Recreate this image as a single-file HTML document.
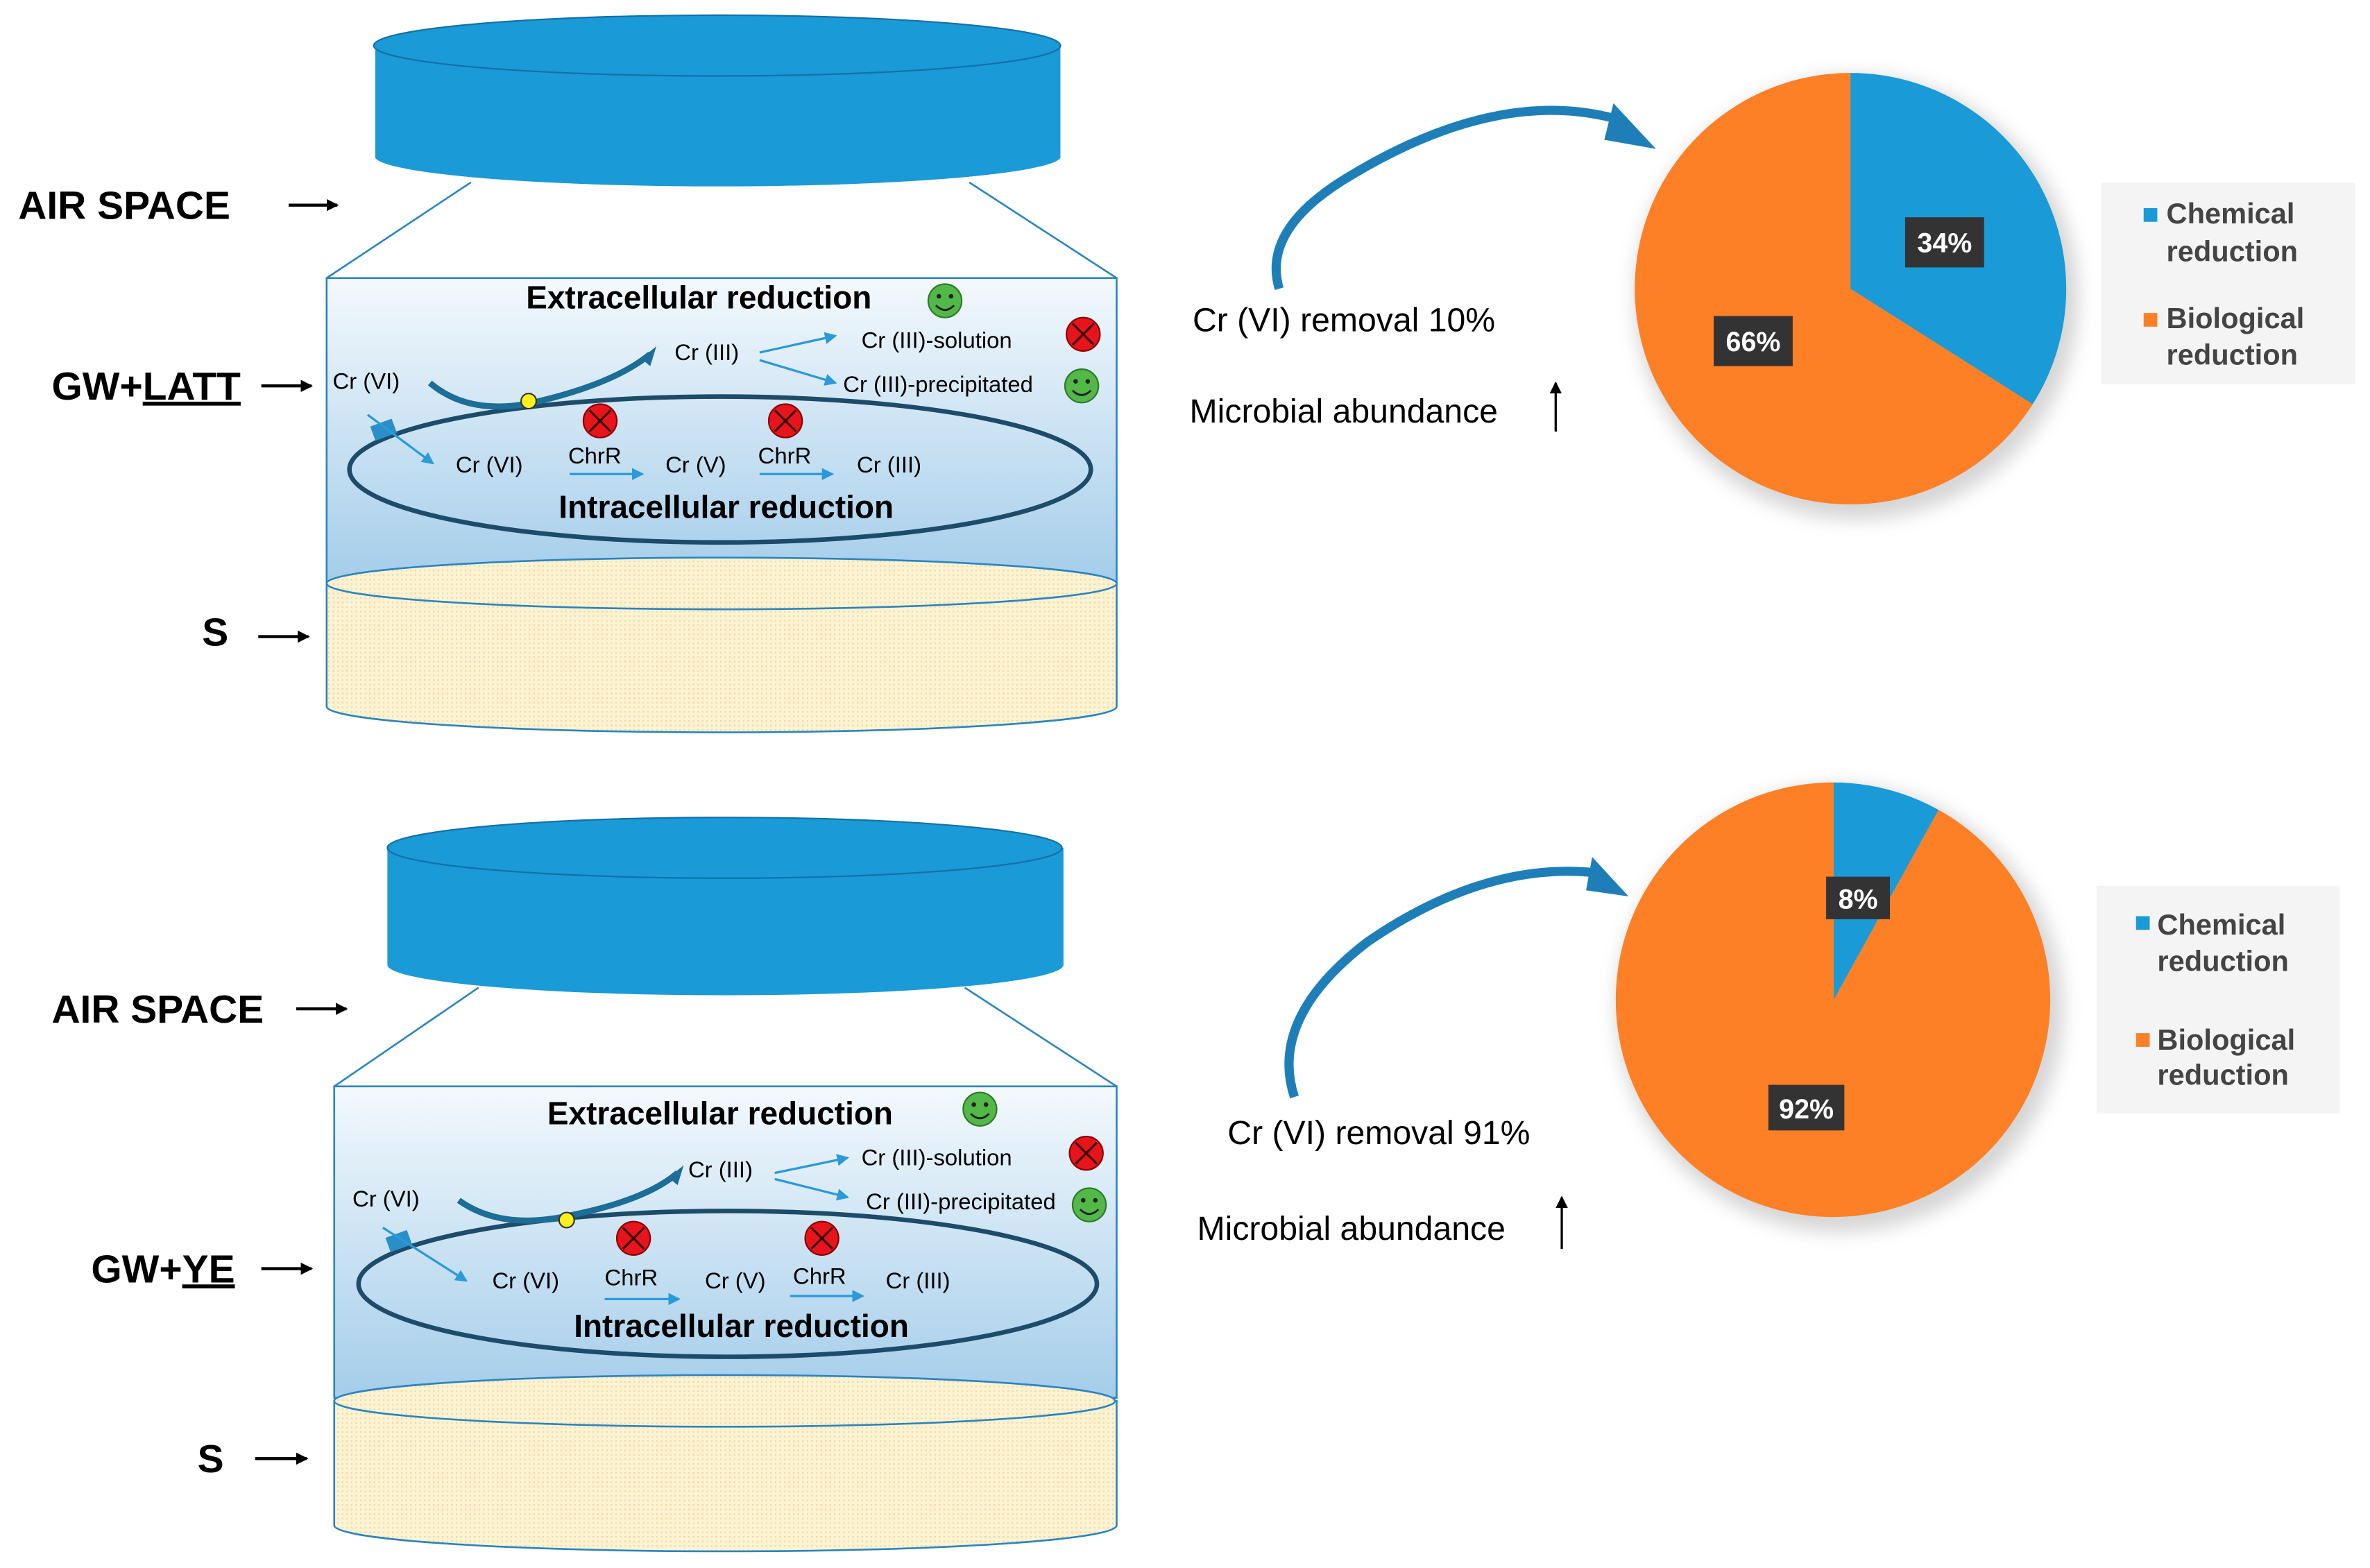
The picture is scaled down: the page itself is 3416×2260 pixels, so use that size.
<!DOCTYPE html>
<html><head><meta charset="utf-8"><style>
html,body{margin:0;padding:0;background:#fff;}
svg{display:block;}
text{font-family:"Liberation Sans Narrow","Liberation Sans",sans-serif;}
.b{font-weight:bold;}
</style></head><body>
<svg width="3416" height="2260" viewBox="0 0 1560 1032" preserveAspectRatio="none" xmlns="http://www.w3.org/2000/svg">
<defs>
<linearGradient id="water" x1="0" y1="0" x2="0" y2="1">
<stop offset="0" stop-color="#f4f9fd"/><stop offset="1" stop-color="#a4cdea"/>
</linearGradient>
<pattern id="dots" width="3" height="3" patternUnits="userSpaceOnUse">
<rect width="3" height="3" fill="#fdf3d2"/><rect width="1" height="1" fill="#e9d9a6"/>
</pattern>
<marker id="ah" markerWidth="8" markerHeight="8" refX="7" refY="4" orient="auto" markerUnits="userSpaceOnUse"><path d="M0,0 L8,4 L0,8 z" fill="#2a9ad8"/></marker>
<marker id="bk" markerWidth="8" markerHeight="8" refX="7" refY="4" orient="auto" markerUnits="userSpaceOnUse"><path d="M0,0 L8,4 L0,8 z" fill="#000"/></marker>
<g id="smile"><circle r="11" fill="#52b848" stroke="#2e7a28" stroke-width="1"/><circle cx="-4" cy="-3" r="1.5" fill="#222"/><circle cx="4" cy="-3" r="1.5" fill="#222"/><path d="M-6,3 Q0,9 6,3" fill="none" stroke="#222" stroke-width="1.3"/></g>
<g id="xx"><circle r="11" fill="#e8141c" stroke="#8a0000" stroke-width="1"/><path d="M-7,-7 L7,7 M7,-7 L-7,7" stroke="#300" stroke-width="1.4"/></g>
<filter id="sh" x="-20%" y="-20%" width="140%" height="140%"><feGaussianBlur stdDeviation="6"/></filter>
</defs>

<!-- ========== TOP JAR ========== -->
<line x1="310" y1="120" x2="215" y2="183" stroke="#2a85c0" stroke-width="1.2"/>
<line x1="638" y1="120" x2="735" y2="183" stroke="#2a85c0" stroke-width="1.2"/>
<path d="M247,30 L247,104 A226,20 0 0 0 698,104 L698,30 z" fill="#1a9ad6"/>
<ellipse cx="472" cy="30" rx="226" ry="20" fill="#1a9ad6" stroke="#1470a8" stroke-width="1"/>
<rect x="215" y="183" width="520" height="200" fill="url(#water)" stroke="#2a85c0" stroke-width="1.2"/>
<path d="M215,384 L215,465 A260,17 0 0 0 735,465 L735,384 z" fill="url(#dots)" stroke="#2a85c0" stroke-width="1.2"/>
<ellipse cx="475" cy="384" rx="260" ry="17" fill="url(#dots)" stroke="#2a85c0" stroke-width="1.2"/>
<ellipse cx="474" cy="309" rx="244" ry="48" fill="none" stroke="#1d4c6a" stroke-width="3"/>
<text x="460" y="203" class="b" font-size="21" text-anchor="middle">Extracellular reduction</text>
<use href="#smile" x="622" y="198"/>
<text x="444" y="237" font-size="15">Cr (III)</text>
<line x1="500" y1="232" x2="550" y2="221" stroke="#2a9ad8" stroke-width="1.5" marker-end="url(#ah)"/>
<line x1="500" y1="237" x2="550" y2="252" stroke="#2a9ad8" stroke-width="1.5" marker-end="url(#ah)"/>
<text x="567" y="229" font-size="15">Cr (III)-solution</text>
<use href="#xx" x="713" y="220"/>
<text x="555" y="258" font-size="15">Cr (III)-precipitated</text>
<use href="#smile" x="712" y="254"/>
<text x="219" y="256" font-size="15">Cr (VI)</text>
<path d="M283,252 Q310,275 355,264 Q405,252 428,233" fill="none" stroke="#1c6d97" stroke-width="4"/>
<path d="M422,236 L432,228 L428,241 z" fill="#1c6d97"/>
<circle cx="348" cy="264" r="5" fill="#ffef1a" stroke="#333" stroke-width="1"/>
<rect x="245" y="278" width="15" height="10" fill="#2a8ec9" transform="rotate(-20 252 283)"/>
<line x1="242" y1="273" x2="285" y2="305" stroke="#2a9ad8" stroke-width="1.5" marker-end="url(#ah)"/>
<text x="300" y="311" font-size="15">Cr (VI)</text>
<use href="#xx" x="395" y="277"/>
<text x="374" y="305" font-size="15">ChrR</text>
<line x1="375" y1="312" x2="423" y2="312" stroke="#2a9ad8" stroke-width="1.5" marker-end="url(#ah)"/>
<text x="438" y="311" font-size="15">Cr (V)</text>
<use href="#xx" x="517" y="277"/>
<text x="499" y="305" font-size="15">ChrR</text>
<line x1="500" y1="312" x2="548" y2="312" stroke="#2a9ad8" stroke-width="1.5" marker-end="url(#ah)"/>
<text x="564" y="311" font-size="15">Cr (III)</text>
<text x="478" y="341" class="b" font-size="21" text-anchor="middle">Intracellular reduction</text>

<text x="12" y="144" class="b" font-size="26">AIR SPACE</text>
<line x1="190" y1="135" x2="222" y2="135" stroke="#000" stroke-width="2" marker-end="url(#bk)"/>
<text x="34" y="263" class="b" font-size="26">GW+<tspan text-decoration="underline">LATT</tspan></text>
<line x1="172" y1="254" x2="205" y2="254" stroke="#000" stroke-width="2" marker-end="url(#bk)"/>
<text x="133" y="425" class="b" font-size="26">S</text>
<line x1="170" y1="419" x2="203" y2="419" stroke="#000" stroke-width="2" marker-end="url(#bk)"/>

<!-- ========== BOTTOM JAR ========== -->
<line x1="315" y1="650" x2="220" y2="715" stroke="#2a85c0" stroke-width="1.2"/>
<line x1="635" y1="650" x2="735" y2="715" stroke="#2a85c0" stroke-width="1.2"/>
<path d="M255,558 L255,635 A222,20 0 0 0 700,635 L700,558 z" fill="#1a9ad6"/>
<ellipse cx="477" cy="558" rx="222" ry="20" fill="#1a9ad6" stroke="#1470a8" stroke-width="1"/>
<rect x="220" y="715" width="515" height="205" fill="url(#water)" stroke="#2a85c0" stroke-width="1.2"/>
<path d="M220,922 L220,1004 A257,17 0 0 0 735,1004 L735,922 z" fill="url(#dots)" stroke="#2a85c0" stroke-width="1.2"/>
<ellipse cx="477" cy="922" rx="257" ry="17" fill="url(#dots)" stroke="#2a85c0" stroke-width="1.2"/>
<ellipse cx="479" cy="845" rx="243" ry="48" fill="none" stroke="#1d4c6a" stroke-width="3"/>
<text x="474" y="740" class="b" font-size="21" text-anchor="middle">Extracellular reduction</text>
<use href="#smile" x="645" y="730"/>
<text x="453" y="775" font-size="15">Cr (III)</text>
<line x1="510" y1="772" x2="558" y2="762" stroke="#2a9ad8" stroke-width="1.5" marker-end="url(#ah)"/>
<text x="567" y="767" font-size="15">Cr (III)-solution</text>
<use href="#xx" x="715" y="759"/>
<line x1="510" y1="776" x2="558" y2="788" stroke="#2a9ad8" stroke-width="1.5" marker-end="url(#ah)"/>
<text x="570" y="796" font-size="15">Cr (III)-precipitated</text>
<use href="#smile" x="717" y="793"/>
<text x="232" y="794" font-size="15">Cr (VI)</text>
<path d="M302,790 Q330,810 375,800 Q425,790 446,772" fill="none" stroke="#1c6d97" stroke-width="4"/>
<path d="M440,775 L450,767 L446,780 z" fill="#1c6d97"/>
<circle cx="373" cy="803" r="5" fill="#ffef1a" stroke="#333" stroke-width="1"/>
<rect x="255" y="812" width="15" height="10" fill="#2a8ec9" transform="rotate(-20 262 817)"/>
<line x1="252" y1="808" x2="307" y2="843" stroke="#2a9ad8" stroke-width="1.5" marker-end="url(#ah)"/>
<text x="324" y="848" font-size="15">Cr (VI)</text>
<use href="#xx" x="417" y="815"/>
<text x="398" y="846" font-size="15">ChrR</text>
<line x1="398" y1="855" x2="447" y2="855" stroke="#2a9ad8" stroke-width="1.5" marker-end="url(#ah)"/>
<text x="464" y="848" font-size="15">Cr (V)</text>
<use href="#xx" x="541" y="815"/>
<text x="522" y="845" font-size="15">ChrR</text>
<line x1="520" y1="853" x2="568" y2="853" stroke="#2a9ad8" stroke-width="1.5" marker-end="url(#ah)"/>
<text x="583" y="848" font-size="15">Cr (III)</text>
<text x="488" y="880" class="b" font-size="21" text-anchor="middle">Intracellular reduction</text>

<text x="34" y="673" class="b" font-size="26">AIR SPACE</text>
<line x1="195" y1="664" x2="228" y2="664" stroke="#000" stroke-width="2" marker-end="url(#bk)"/>
<text x="60" y="844" class="b" font-size="26">GW+<tspan text-decoration="underline">YE</tspan></text>
<line x1="172" y1="835" x2="205" y2="835" stroke="#000" stroke-width="2" marker-end="url(#bk)"/>
<text x="130" y="969" class="b" font-size="26">S</text>
<line x1="168" y1="960" x2="202" y2="960" stroke="#000" stroke-width="2" marker-end="url(#bk)"/>

<!-- ========== TOP RIGHT ========== -->
<path d="M842,190 Q830,150 890,115 Q990,55 1070,80" fill="none" stroke="#1e7fb8" stroke-width="6"/>
<path d="M1062,68 L1090,98 L1056,92 z" fill="#1e7fb8"/>
<text x="785" y="218" font-size="22">Cr (VI)  removal  10%</text>
<text x="783" y="278" font-size="22">Microbial abundance</text>
<line x1="1024" y1="284" x2="1024" y2="252" stroke="#000" stroke-width="1.5" marker-end="url(#bk)"/>
<circle cx="1222" cy="196" r="146" fill="#888" opacity="0.35" filter="url(#sh)"/>
<path d="M1218,190 L1218,48 A142,142 0 1 0 1338,266 z" fill="#fd7f26"/>
<path d="M1218,190 L1218,48 A142,142 0 0 1 1338,266 z" fill="#1a9ad6"/>
<rect x="1254" y="143" width="52" height="33" fill="#333"/>
<text x="1280" y="166" font-size="18" fill="#fff" class="b" text-anchor="middle">34%</text>
<rect x="1128" y="208" width="52" height="33" fill="#333"/>
<text x="1154" y="231" font-size="18" fill="#fff" class="b" text-anchor="middle">66%</text>
<rect x="1383" y="120" width="167" height="133" fill="#f4f4f4"/>
<rect x="1411" y="137" width="9" height="9" fill="#1a9ad6"/>
<text x="1426" y="147" font-size="19" fill="#444" class="b">Chemical</text>
<text x="1426" y="172" font-size="19" fill="#444" class="b">reduction</text>
<rect x="1411" y="206" width="9" height="9" fill="#fd7f26"/>
<text x="1426" y="216" font-size="19" fill="#444" class="b">Biological</text>
<text x="1426" y="240" font-size="19" fill="#444" class="b">reduction</text>

<!-- ========== BOTTOM RIGHT ========== -->
<path d="M852,722 Q835,670 900,620 Q980,565 1055,575" fill="none" stroke="#1e7fb8" stroke-width="6"/>
<path d="M1048,564 L1072,590 L1044,586 z" fill="#1e7fb8"/>
<text x="808" y="753" font-size="22">Cr (VI)  removal  91%</text>
<text x="788" y="816" font-size="22">Microbial abundance</text>
<line x1="1028" y1="822" x2="1028" y2="788" stroke="#000" stroke-width="1.5" marker-end="url(#bk)"/>
<circle cx="1211" cy="664" r="147" fill="#888" opacity="0.35" filter="url(#sh)"/>
<path d="M1207,658 L1207,515 A143,143 0 1 0 1276,533 z" fill="#fd7f26"/>
<path d="M1207,658 L1207,515 A143,143 0 0 1 1276,533 z" fill="#1a9ad6"/>
<rect x="1202" y="577" width="42" height="28" fill="#333"/>
<text x="1223" y="598" font-size="18" fill="#fff" class="b" text-anchor="middle">8%</text>
<rect x="1164" y="714" width="50" height="30" fill="#333"/>
<text x="1189" y="736" font-size="18" fill="#fff" class="b" text-anchor="middle">92%</text>
<rect x="1380" y="583" width="160" height="150" fill="#f4f4f4"/>
<rect x="1406" y="603" width="9" height="9" fill="#1a9ad6"/>
<text x="1420" y="615" font-size="19" fill="#444" class="b">Chemical</text>
<text x="1420" y="639" font-size="19" fill="#444" class="b">reduction</text>
<rect x="1406" y="680" width="9" height="9" fill="#fd7f26"/>
<text x="1420" y="691" font-size="19" fill="#444" class="b">Biological</text>
<text x="1420" y="714" font-size="19" fill="#444" class="b">reduction</text>
</svg>
</body></html>
